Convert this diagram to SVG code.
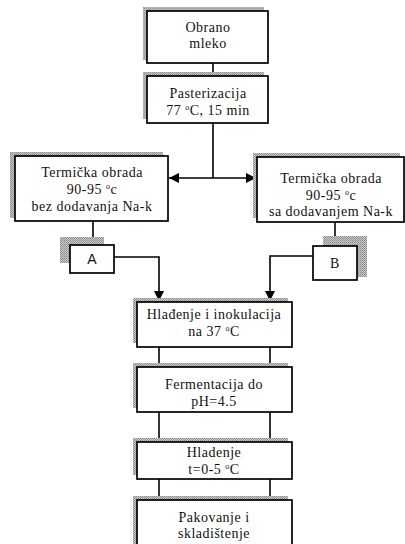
<svg xmlns="http://www.w3.org/2000/svg" width="405" height="544" viewBox="0 0 405 544">
<style>
.box{fill:#fff;stroke:#000;stroke-width:1.7}
.sh{fill:url(#dots);stroke:none}
.t{font-family:"Liberation Serif","Times New Roman",serif;font-size:14px;letter-spacing:0.5px;fill:#111;text-anchor:middle}
.ts{font-family:"Liberation Sans",Arial,sans-serif;font-size:14px;fill:#111;text-anchor:middle}
.c{fill:none;stroke:#000;stroke-width:1.6}
</style>
<defs>
<pattern id="dots" width="2" height="2" patternUnits="userSpaceOnUse">
<rect width="2" height="2" fill="#c8c8c8"/>
<rect width="1" height="1" fill="#8a8a8a"/>
<rect x="1" y="1" width="1" height="1" fill="#9a9a9a"/>
</pattern>
<marker id="ah" viewBox="0 0 10 10" refX="10" refY="5" markerWidth="11" markerHeight="10" markerUnits="userSpaceOnUse" orient="auto">
<path d="M0,0 L10,5 L0,10 z" fill="#000"/>
</marker>
</defs>

<g id="connectors">
<line class="c" x1="213" y1="63" x2="213" y2="76"/>
<line class="c" x1="213" y1="123" x2="213" y2="178"/>
<line class="c" x1="213" y1="178" x2="169" y2="178" marker-end="url(#ah)"/>
<line class="c" x1="213" y1="178" x2="256" y2="178" marker-end="url(#ah)"/>
<line class="c" x1="93" y1="221" x2="93" y2="245"/>
<line class="c" x1="335" y1="222" x2="335" y2="246"/>
<polyline class="c" points="114,257 159,257 159,301" marker-end="url(#ah)"/>
<polyline class="c" points="313,256 270,256 270,301" marker-end="url(#ah)"/>
<line class="c" x1="159" y1="347" x2="159" y2="367"/>
<line class="c" x1="270" y1="347" x2="270" y2="367"/>
<line class="c" x1="159" y1="412" x2="159" y2="442"/>
<line class="c" x1="270" y1="412" x2="270" y2="442"/>
<line class="c" x1="159" y1="479" x2="159" y2="500"/>
<line class="c" x1="270" y1="479" x2="270" y2="500"/>
</g>

<g id="n1">
<rect class="sh" x="143" y="7" width="121" height="53"/>
<rect class="box" x="147" y="11" width="121" height="52"/>
<text class="t" x="208" y="32">Obrano</text>
<text class="t" x="208" y="48">mleko</text>
</g>

<g id="n2">
<rect class="sh" x="143" y="72" width="121" height="47"/>
<rect class="box" x="147" y="76" width="121" height="47"/>
<text class="t" x="208" y="98">Pasterizacija</text>
<text class="t" x="208" y="115">77 <tspan font-size="8" dy="-5">o</tspan><tspan dy="5">C, 15  min</tspan></text>
</g>

<g id="n3">
<rect class="sh" x="10" y="152" width="153" height="66"/>
<rect class="box" x="15" y="156" width="153" height="65"/>
<text class="t" x="92" y="177">Termička obrada</text>
<text class="t" x="92" y="194">90-95 <tspan font-size="8" dy="-5">o</tspan><tspan dy="5">c</tspan></text>
<text class="t" x="92" y="211">bez dodavanja Na-k</text>
</g>

<g id="n4">
<rect class="sh" x="253" y="153" width="147" height="65"/>
<rect class="box" x="257" y="157" width="147" height="65"/>
<text class="t" x="331" y="183">Termička obrada</text>
<text class="t" x="331" y="200">90-95 <tspan font-size="8" dy="-5">o</tspan><tspan dy="5">c</tspan></text>
<text class="t" x="331" y="216">sa dodavanjem  Na-k</text>
</g>

<g id="nA">
<rect class="sh" x="60" y="237" width="44" height="26"/>
<rect class="box" x="70" y="245" width="44" height="28"/>
<text class="ts" x="92" y="264">A</text>
</g>

<g id="nB">
<rect class="sh" x="323" y="236" width="44" height="41"/>
<rect class="box" x="313" y="246" width="44" height="34"/>
<text class="t" x="335" y="268">B</text>
</g>

<g id="n5">
<rect class="sh" x="133" y="298" width="155" height="45"/>
<rect class="box" x="137" y="302" width="155" height="45"/>
<text class="t" x="214" y="319">Hlađenje i inokulacija</text>
<text class="t" x="214" y="336">na  37 <tspan font-size="8" dy="-5">o</tspan><tspan dy="5">C</tspan></text>
</g>

<g id="n6">
<rect class="sh" x="133" y="363" width="155" height="45"/>
<rect class="box" x="137" y="367" width="155" height="45"/>
<text class="t" x="214" y="389">Fermentacija do</text>
<text class="t" x="214" y="406">pH=4.5</text>
</g>

<g id="n7">
<rect class="sh" x="133" y="438" width="155" height="37"/>
<rect class="box" x="137" y="442" width="155" height="37"/>
<text class="t" x="214" y="457">Hladenje</text>
<text class="t" x="214" y="474">t=0-5 <tspan font-size="8" dy="-5">o</tspan><tspan dy="5">C</tspan></text>
</g>

<g id="n8">
<rect class="sh" x="133" y="496" width="155" height="60"/>
<rect class="box" x="137" y="500" width="155" height="60"/>
<text class="t" x="214" y="522">Pakovanje i</text>
<text class="t" x="214" y="538">skladištenje</text>
</g>
</svg>
